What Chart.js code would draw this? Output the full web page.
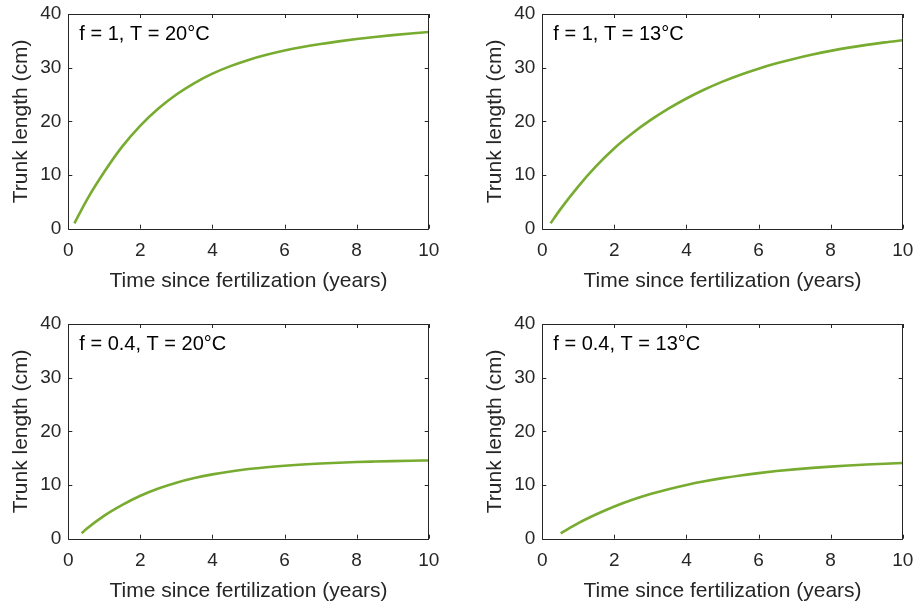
<!DOCTYPE html>
<html>
<head>
<meta charset="utf-8">
<script src="https://cdn.jsdelivr.net/npm/chart.js@4/dist/chart.umd.min.js"></script>
<style>
  html, body { margin: 0; padding: 0; background: #fff; width: 919px; height: 607px; overflow: hidden; }
  canvas { position: absolute; }
</style>
</head>
<body>
<canvas id="c1" width="445" height="297" style="left:0px;top:0px"></canvas>
<canvas id="c2" width="445" height="297" style="left:474px;top:0px"></canvas>
<canvas id="c3" width="445" height="297" style="left:0px;top:310px"></canvas>
<canvas id="c4" width="445" height="297" style="left:474px;top:310px"></canvas>
<script>
// ---- Data ----
const panelLabels = ["f = 1, T = 20°C", "f = 1, T = 13°C", "f = 0.4, T = 20°C", "f = 0.4, T = 13°C"];
const xTitle = "Time since fertilization (years)";
const yTitle = "Trunk length (cm)";
const xTicks = [0, 2, 4, 6, 8, 10];
const yTicks = [0, 10, 20, 30, 40];

const timeA = [0.17, 0.5, 1, 1.5, 2, 2.5, 3, 3.5, 4, 4.5, 5, 5.5, 6, 6.5, 7, 7.5, 8, 8.5, 9, 9.5, 10];
const lenA  = [1.0, 5.2, 10.6, 15.33, 19.21, 22.39, 25.0, 27.14, 28.89, 30.29, 31.44, 32.39, 33.19, 33.85, 34.41, 34.9, 35.34, 35.72, 36.06, 36.37, 36.64];

const timeB = [0.23, 0.5, 1, 1.5, 2, 2.5, 3, 3.5, 4, 4.5, 5, 5.5, 6, 6.5, 7, 7.5, 8, 8.5, 9, 9.5, 10];
const lenB  = [1.0, 3.6, 7.9, 11.7, 15.0, 17.78, 20.22, 22.37, 24.26, 25.93, 27.4, 28.69, 29.82, 30.81, 31.68, 32.45, 33.13, 33.73, 34.25, 34.71, 35.1];

const timeC = [0.37, 0.5, 1, 1.5, 2, 2.5, 3, 3.5, 4, 4.5, 5, 5.5, 6, 6.5, 7, 7.5, 8, 8.5, 9, 9.5, 10];
const lenC  = [1.0, 1.8, 4.3, 6.3, 8.0, 9.35, 10.43, 11.29, 11.98, 12.53, 12.97, 13.32, 13.6, 13.83, 14.01, 14.16, 14.28, 14.37, 14.45, 14.52, 14.58];

const timeD = [0.51, 1, 1.5, 2, 2.5, 3, 3.5, 4, 4.5, 5, 5.5, 6, 6.5, 7, 7.5, 8, 8.5, 9, 9.5, 10];
const lenD  = [1.0, 2.9, 4.55, 6.0, 7.24, 8.31, 9.23, 10.02, 10.7, 11.29, 11.79, 12.22, 12.6, 12.92, 13.19, 13.43, 13.63, 13.81, 13.96, 14.09];

const panels = [
  { id: "c1", t: timeA, v: lenA, label: panelLabels[0] },
  { id: "c2", t: timeB, v: lenB, label: panelLabels[1] },
  { id: "c3", t: timeC, v: lenC, label: panelLabels[2] },
  { id: "c4", t: timeD, v: lenD, label: panelLabels[3] }
];

const AXIS_COLOR = "#262626";
const FONT = "'Liberation Sans', Arial, Helvetica, sans-serif";

// Box + inward ticks + panel label
const boxPlugin = {
  id: "matlabBox",
  afterDraw(chart, args, opts) {
    const { ctx, chartArea: a, scales } = chart;
    ctx.save();
    ctx.strokeStyle = AXIS_COLOR;
    ctx.lineWidth = 1;
    ctx.beginPath();
    ctx.rect(Math.round(a.left) + 0.5, Math.round(a.top) + 0.5, Math.round(a.right - a.left), Math.round(a.bottom - a.top));
    ctx.stroke();
    const tl = 4;
    ctx.beginPath();
    xTicks.forEach(v => {
      const px = Math.round(scales.x.getPixelForValue(v)) + 0.5;
      ctx.moveTo(px, a.bottom); ctx.lineTo(px, a.bottom - tl);
      ctx.moveTo(px, a.top); ctx.lineTo(px, a.top + tl);
    });
    yTicks.forEach(v => {
      const py = Math.round(scales.y.getPixelForValue(v)) + 0.5;
      ctx.moveTo(a.left, py); ctx.lineTo(a.left + tl, py);
      ctx.moveTo(a.right, py); ctx.lineTo(a.right - tl, py);
    });
    ctx.stroke();
    ctx.fillStyle = "#000";
    ctx.font = "20px " + FONT;
    ctx.textAlign = "left";
    ctx.textBaseline = "alphabetic";
    ctx.fillText(opts.text, a.left + 11, a.top + 25.5);
    ctx.restore();
  }
};

function zeroPad(s) { s.paddingTop = 0; s.paddingBottom = 0; s.paddingLeft = 0; s.paddingRight = 0; }

panels.forEach(p => {
  const data = p.t.map((t, i) => ({ x: t, y: p.v[i] }));
  new Chart(document.getElementById(p.id), {
    type: "line",
    data: {
      datasets: [{
        data: data,
        borderColor: "#77AC30",
        borderWidth: 2.6,
        pointRadius: 0,
        fill: false,
        cubicInterpolationMode: "monotone"
      }]
    },
    options: {
      responsive: false,
      devicePixelRatio: 1,
      animation: false,
      events: [],
      layout: { padding: { left: 0, right: 16.3, top: 14, bottom: 0 } },
      plugins: {
        legend: { display: false },
        tooltip: { enabled: false },
        matlabBox: { text: p.label }
      },
      scales: {
        x: {
          type: "linear",
          min: 0, max: 10,
          afterFit: s => { s.height = 68.3; zeroPad(s); },
          afterBuildTicks: s => { s.ticks = xTicks.map(v => ({ value: v })); },
          grid: { display: false, drawTicks: false },
          border: { display: false },
          ticks: { color: AXIS_COLOR, font: { family: FONT, size: 19 }, padding: 11, maxRotation: 0 },
          title: { display: true, text: xTitle, color: AXIS_COLOR, font: { family: FONT, size: 21 }, padding: { top: 0, bottom: 3 } }
        },
        y: {
          min: 0, max: 40,
          afterFit: s => { s.width = 68.3; zeroPad(s); },
          afterBuildTicks: s => { s.ticks = yTicks.map(v => ({ value: v })); },
          grid: { display: false, drawTicks: false },
          border: { display: false },
          ticks: { color: AXIS_COLOR, font: { family: FONT, size: 19 }, padding: 7 },
          title: { display: true, text: yTitle, color: AXIS_COLOR, font: { family: FONT, size: 21 }, padding: { top: 9, bottom: 0 } }
        }
      }
    },
    plugins: [boxPlugin]
  });
});
</script>
</body>
</html>
